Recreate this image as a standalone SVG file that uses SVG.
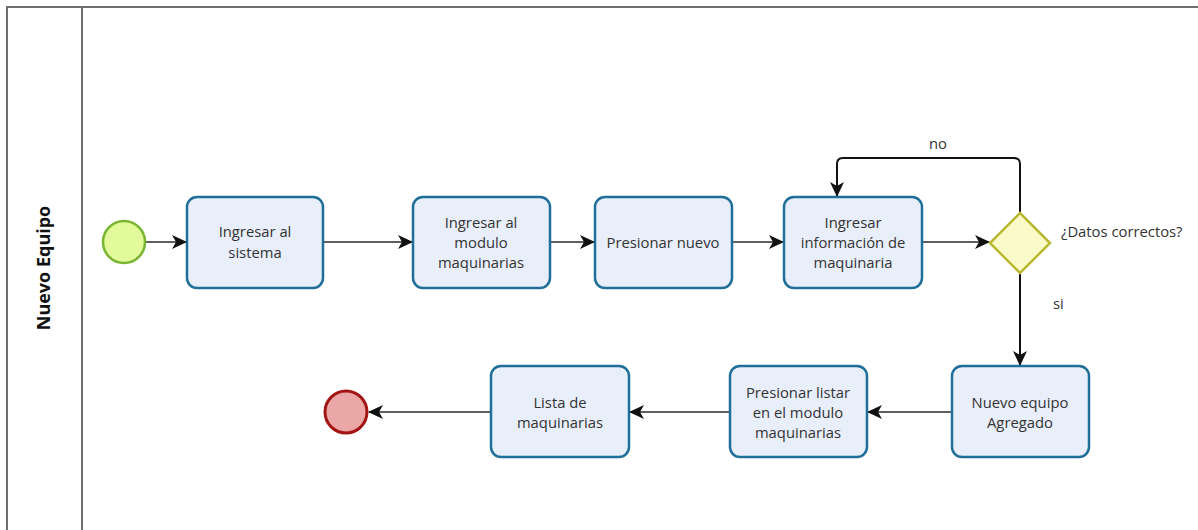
<svg xmlns="http://www.w3.org/2000/svg" width="1198" height="530" viewBox="0 0 1198 530">
  <defs>
    <style>
      .pool { fill: none; stroke: #6e6e6e; stroke-width: 2; }
      .task { fill: #e9eefb; stroke: #1f6f99; stroke-width: 2.5; }
      .lbl { font-family: "Open Sans", "Noto Sans", sans-serif; font-size: 14.8px; fill: #333; text-anchor: middle; }
      .note { font-family: "Open Sans", "Noto Sans", sans-serif; font-size: 14.8px; fill: #333; }
      .lane { font-family: "Open Sans", "Noto Sans", sans-serif; font-size: 18px; font-weight: bold; fill: #111; text-anchor: middle; }
      .flow { fill: none; stroke: #2a2a2a; stroke-width: 1.6; marker-end: url(#arrow); }
      .flow-v { fill: none; stroke: #111; stroke-width: 2; marker-end: url(#arrow); }
    </style>
    <marker id="arrow" viewBox="0 0 15 14" refX="14" refY="7" markerWidth="15" markerHeight="14" markerUnits="userSpaceOnUse" orient="auto">
      <path d="M0,0 L15,7 L0,14 L4,7 Z" fill="#111"/>
    </marker>
  </defs>

  <!-- pool and lane header -->
  <g id="pool">
    <path class="pool" d="M1198,7 H7 V530"/>
    <line class="pool" x1="82" y1="7" x2="82" y2="530"/>
    <text class="lane" transform="translate(50,268) rotate(-90)">Nuevo Equipo</text>
  </g>

  <!-- sequence flows -->
  <g id="connectors">
    <line class="flow" x1="146" y1="242" x2="186" y2="242"/>
    <line class="flow" x1="323" y1="242" x2="412" y2="242"/>
    <line class="flow" x1="550" y1="242" x2="594" y2="242"/>
    <line class="flow" x1="732" y1="242" x2="783" y2="242"/>
    <line class="flow" x1="922" y1="242" x2="989" y2="242"/>
    <path class="flow-v" d="M1020,213 V164 Q1020,158 1014,158 H843 Q837,158 837,164 V196"/>
    <line class="flow-v" x1="1020" y1="273" x2="1020" y2="365"/>
    <line class="flow" x1="952" y1="412" x2="868" y2="412"/>
    <line class="flow" x1="730" y1="412" x2="630" y2="412"/>
    <line class="flow" x1="491" y1="412" x2="369" y2="412"/>
    <text class="note" x="929" y="149">no</text>
    <text class="note" x="1053" y="309">si</text>
  </g>

  <g id="start">
    <circle cx="124" cy="242" r="21" fill="#e1fb9b" stroke="#79b630" stroke-width="2.5"/>
  </g>

  <g id="task-ingresar-sistema">
    <rect class="task" x="187" y="197" width="136" height="91" rx="10"/>
    <text class="lbl" x="255" y="237">Ingresar al</text>
    <text class="lbl" x="255" y="258">sistema</text>
  </g>

  <g id="task-ingresar-modulo">
    <rect class="task" x="413" y="197" width="137" height="91" rx="10"/>
    <text class="lbl" x="481" y="228">Ingresar al</text>
    <text class="lbl" x="481" y="248">modulo</text>
    <text class="lbl" x="481" y="268">maquinarias</text>
  </g>

  <g id="task-presionar-nuevo">
    <rect class="task" x="595" y="197" width="137" height="91" rx="10"/>
    <text class="lbl" x="663" y="248">Presionar nuevo</text>
  </g>

  <g id="task-ingresar-info">
    <rect class="task" x="784" y="197" width="138" height="91" rx="10"/>
    <text class="lbl" x="853" y="228">Ingresar</text>
    <text class="lbl" x="853" y="248">información de</text>
    <text class="lbl" x="853" y="268">maquinaria</text>
  </g>

  <g id="gateway-datos">
    <polygon points="1020,213 1050,243 1020,273 990,243" fill="#fbfac9" stroke="#b9b834" stroke-width="2.5"/>
    <text class="note" x="1061" y="237">¿Datos correctos?</text>
  </g>

  <g id="task-nuevo-equipo">
    <rect class="task" x="952" y="366" width="137" height="91" rx="10"/>
    <text class="lbl" x="1020" y="408">Nuevo equipo</text>
    <text class="lbl" x="1020" y="428">Agregado</text>
  </g>

  <g id="task-presionar-listar">
    <rect class="task" x="730" y="366" width="137" height="91" rx="10"/>
    <text class="lbl" x="798" y="398">Presionar listar</text>
    <text class="lbl" x="798" y="418">en el modulo</text>
    <text class="lbl" x="798" y="438">maquinarias</text>
  </g>

  <g id="task-lista">
    <rect class="task" x="491" y="366" width="138" height="91" rx="10"/>
    <text class="lbl" x="560" y="408">Lista de</text>
    <text class="lbl" x="560" y="428">maquinarias</text>
  </g>

  <g id="end">
    <circle cx="346" cy="412" r="21" fill="#eba6a6" stroke="#a31515" stroke-width="3"/>
  </g>
</svg>
